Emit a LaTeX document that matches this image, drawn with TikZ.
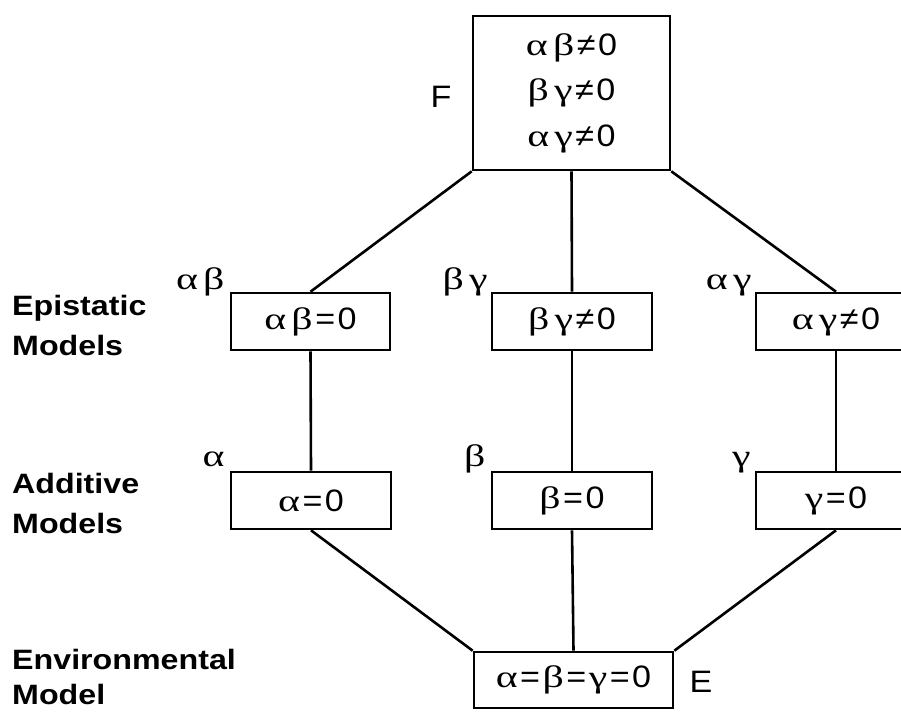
\documentclass[tikz,border=0pt]{standalone}
\usepackage{fontspec}
\setmainfont[FakeStretch=1.1]{Liberation Sans}
\newfontfamily\grfont[FakeStretch=1.35]{Liberation Serif}
\newfontfamily\labfont[FakeStretch=1.15]{Liberation Sans Bold}
\newcommand\mya{{\grfont α}}
\newcommand\myb{{\grfont β}}
\newcommand\myg{{\grfont γ}}
\newcommand\myeq{\kern2.5pt=\kern2.5pt}
\newcommand\myne{\kern2.5pt≠\kern2.5pt}
\begin{document}
\begin{tikzpicture}[x=1pt,y=-1pt,
  box/.style={draw, line width=2.6pt, inner sep=0pt, font=\fontsize{31}{35}\selectfont},
  conn/.style={line width=2.6pt},
  glab/.style={inner sep=0pt, anchor=base east, font=\fontsize{31}{35}\selectfont},
  side/.style={inner sep=0pt, anchor=base west, font=\labfont\fontsize{28}{34}\selectfont},
  letter/.style={inner sep=0pt, font=\fontsize{31}{35}\selectfont}]
\useasboundingbox (0,0) rectangle (901,713);
\clip (0,0) rectangle (901,713);
% boxes
\node[box, minimum width=197pt, minimum height=154pt, align=center,
      font=\fontsize{31}{45.5}\selectfont] (F) at (571.5,93)
  {\mya\,\myb\myne0\\ \myb\,\myg\myne0\\ \mya\,\myg\myne0};
\node[box, minimum width=159pt, minimum height=57pt] (eL) at (310.5,321.5) {\mya\,\myb\myeq0};
\node[box, minimum width=160pt, minimum height=57pt] (eM) at (572,321.5) {\myb\,\myg\myne0};
\node[box, minimum width=160pt, minimum height=57pt] (eR) at (836,321.5) {\mya\,\myg\myne0};
\node[box, minimum width=160pt, minimum height=57pt] (aL) at (311,500.5) {\mya\myeq0};
\node[box, minimum width=160pt, minimum height=57pt] (aM) at (572,500.5) {\myb\myeq0};
\node[box, minimum width=160pt, minimum height=57pt] (aR) at (836,500.5) {\myg\myeq0};
\node[box, minimum width=199pt, minimum height=56pt] (E) at (573.5,680) {\mya\myeq\myb\myeq\myg\myeq0};
% connectors
\draw[conn] (F.south west) -- (eL.north);
\draw[conn] (F.south) -- (eM.north);
\draw[conn] (F.south east) -- (eR.north);
\draw[conn] (eL.south) -- (aL.north);
\draw[conn] (eM.south) -- (aM.north);
\draw[conn] (eR.south) -- (aR.north);
\draw[conn] (aL.south) -- (E.north west);
\draw[conn] (aM.south) -- (E.north);
\draw[conn] (aR.south) -- (E.north east);
% corner labels
\node[glab] (leL) at ([xshift=-5pt,yshift=2pt]eL.north west) {\mya\,\myb};
\node[glab] (leM) at ([xshift=-3pt,yshift=2pt]eM.north west) {\myb\,\myg};
\node[glab] (leR) at ([xshift=-3pt,yshift=2pt]eR.north west) {\mya\,\myg};
\node[glab] (laL) at ([xshift=-5pt,yshift=4pt]aL.north west) {\mya};
\node[glab] (laM) at ([xshift=-5pt,yshift=4pt]aM.north west) {\myb};
\node[glab] (laR) at ([xshift=-4pt,yshift=4pt]aR.north west) {\myg};
\node[letter, anchor=east] (lF) at ([xshift=-20pt,yshift=-4pt]F.west) {F};
\node[letter, anchor=west] (lE) at ([xshift=15pt,yshift=-2pt]E.east) {E};
% side labels
\node[side] (s1) at (12,315) {Epistatic};
\node[side] (s2) at (12,355) {Models};
\node[side] (s3) at (12,493) {Additive};
\node[side] (s4) at (12,533) {Models};
\node[side] (s5) at (12,669) {Environmental};
\node[side] (s6) at (12,704) {Model};
\end{tikzpicture}
\end{document}
